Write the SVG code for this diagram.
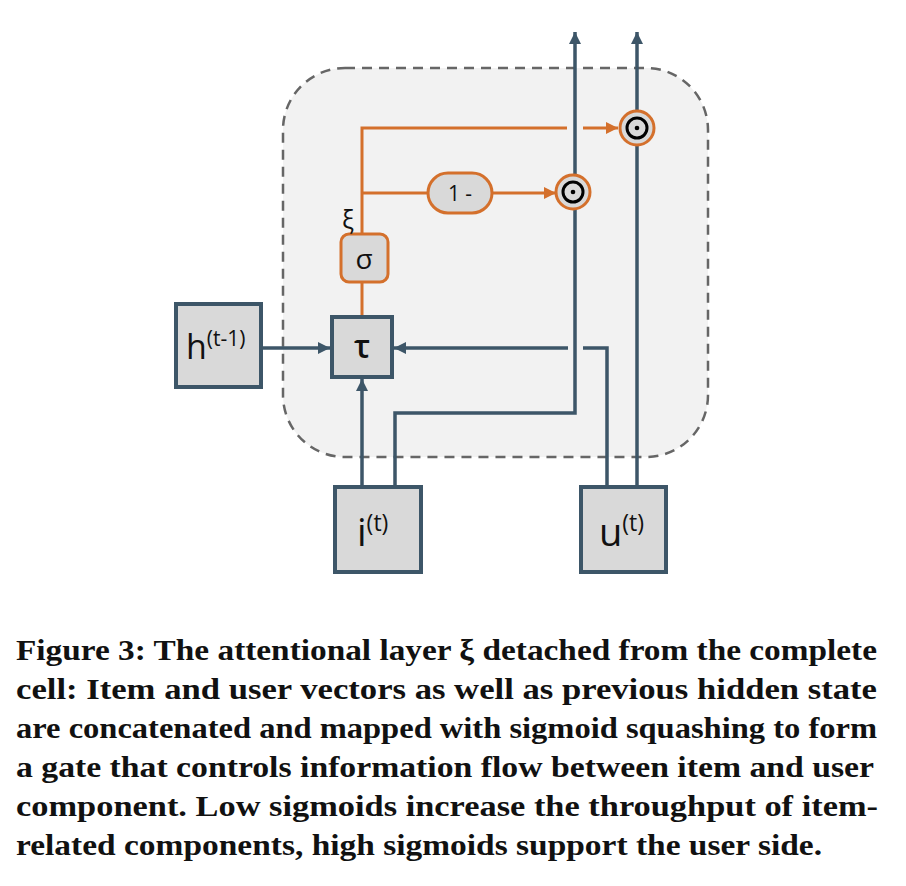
<svg xmlns="http://www.w3.org/2000/svg" width="906" height="886" viewBox="0 0 906 886">
<style>
.blue{fill:none;stroke:#3d5668;stroke-width:3.5}
.org{fill:none;stroke:#d4702c;stroke-width:3}
.box{fill:#d9d9d9;stroke:#3d5668;stroke-width:4}
.obox{fill:#d9d9d9;stroke:#d4702c;stroke-width:3}
.lbl{font-family:"Open Sans","Noto Sans",sans-serif;fill:#111}
.cap{font-family:"Liberation Serif","Times New Roman",Times,serif;font-weight:700;font-size:30px;fill:#111}
</style>
<defs>
<marker id="ab" markerUnits="userSpaceOnUse" markerWidth="14" markerHeight="14" refX="12" refY="6" orient="auto"><path d="M0,0 L12,6 L0,12 Z" fill="#3d5668"/></marker>
<marker id="ao" markerUnits="userSpaceOnUse" markerWidth="14" markerHeight="14" refX="12" refY="6" orient="auto"><path d="M0,0 L12,6 L0,12 Z" fill="#d4702c"/></marker>
</defs>
<rect width="906" height="886" fill="#fff"/>
<g id="cell"><rect x="283" y="68" width="425" height="389" rx="62" fill="#f2f2f2" stroke="#666" stroke-width="2.5" stroke-dasharray="10,7"/></g>
<g id="connectors">
<path class="blue" d="M261,348 H330" marker-end="url(#ab)"/>
<path class="blue" d="M362,487 V379" marker-end="url(#ab)"/>
<path class="blue" d="M395,487 V413 H575 V32" marker-end="url(#ab)"/>
<path class="blue" d="M607,487 V348 H583"/>
<path class="blue" d="M568,348 H394" marker-end="url(#ab)"/>
<path class="blue" d="M637,487 V32" marker-end="url(#ab)"/>
<path class="org" d="M362,317 V282"/>
<path class="org" d="M362,234 V128 H567"/>
<path class="org" d="M583,128 H618" marker-end="url(#ao)"/>
<path class="org" d="M362,193 H428"/>
<path class="org" d="M492,193 H556" marker-end="url(#ao)"/>
</g>
<g id="h"><rect class="box" x="176" y="304" width="85" height="83"/><text class="lbl" x="186" y="359" font-size="34">h<tspan font-size="21" dy="-13">(t-1)</tspan></text></g>
<g id="tau"><rect class="box" x="332" y="317" width="60" height="60" stroke-width="3"/><text class="lbl" x="362" y="358" font-size="32" font-weight="600" text-anchor="middle">τ</text></g>
<g id="sigma"><rect class="obox" x="341" y="234" width="47" height="48" rx="8"/><text class="lbl" x="364" y="269" font-size="28" text-anchor="middle">σ</text><text class="lbl" x="342" y="229" font-size="25">ξ</text></g>
<g id="oneminus"><rect class="obox" x="428" y="173" width="64" height="40" rx="20"/><text class="lbl" x="460" y="201" font-size="21" text-anchor="middle">1 -</text></g>
<g id="odot1"><circle cx="573" cy="192" r="17" class="obox"/><circle cx="573" cy="192" r="10" fill="none" stroke="#000" stroke-width="3"/><circle cx="573" cy="192" r="2.3" fill="#000"/></g>
<g id="odot2"><circle cx="637" cy="128" r="17" class="obox"/><circle cx="637" cy="128" r="10" fill="none" stroke="#000" stroke-width="3"/><circle cx="637" cy="128" r="2.3" fill="#000"/></g>
<g id="i"><rect class="box" x="335" y="487" width="86" height="85"/><text class="lbl" x="357" y="546" font-size="38">i<tspan font-size="23" dy="-15">(t)</tspan></text></g>
<g id="u"><rect class="box" x="581" y="487" width="85" height="85"/><text class="lbl" x="599" y="546" font-size="38">u<tspan font-size="23" dy="-15">(t)</tspan></text></g>
<g id="caption">
<text class="cap" x="16" y="660" textLength="861" lengthAdjust="spacingAndGlyphs">Figure 3: The attentional layer ξ detached from the complete</text>
<text class="cap" x="16" y="699" textLength="861" lengthAdjust="spacingAndGlyphs">cell: Item and user vectors as well as previous hidden state</text>
<text class="cap" x="16" y="738" textLength="861" lengthAdjust="spacingAndGlyphs">are concatenated and mapped with sigmoid squashing to form</text>
<text class="cap" x="16" y="777" textLength="858" lengthAdjust="spacingAndGlyphs">a gate that controls information flow between item and user</text>
<text class="cap" x="16" y="816" textLength="862" lengthAdjust="spacingAndGlyphs">component. Low sigmoids increase the throughput of item-</text>
<text class="cap" x="16" y="855" textLength="806" lengthAdjust="spacingAndGlyphs">related components, high sigmoids support the user side.</text>
</g>
</svg>
